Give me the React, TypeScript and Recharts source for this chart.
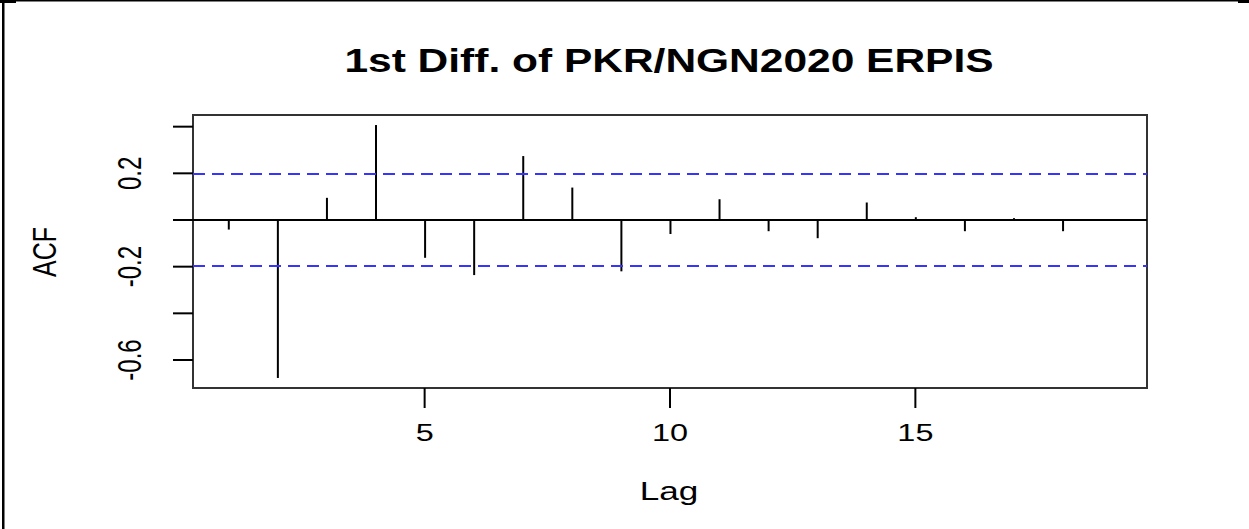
import React from 'react';
import { ComposedChart, Bar, XAxis, YAxis, ReferenceLine, ReferenceArea } from 'recharts';

const lags = [1, 2, 3, 4, 5, 6, 7, 8, 9, 10, 11, 12, 13, 14, 15, 16, 17, 18];
const acfValues = [-0.041, -0.677, 0.095, 0.407, -0.162, -0.236, 0.274, 0.139, -0.22, -0.06, 0.089, -0.048, -0.078, 0.075, 0.012, -0.048, 0.008, -0.048];
const ciBound = 0.197;
const xTicks = [5, 10, 15];
const yTicks = [-0.6, -0.4, -0.2, 0, 0.2, 0.4];
const yLabelledTicks = [-0.6, -0.2, 0.2];
const xDomain = [0.28, 19.72];
const yDomain = [-0.72, 0.45];
const titleText = '1st Diff. of PKR/NGN2020 ERPIS';
const xLabelText = 'Lag';
const yLabelText = 'ACF';

const data = lags.map((lag, i) => ({ lag, acf: acfValues[i] }));

const FONT = '"Liberation Sans", Arial, sans-serif';
const SX = 1.35;
const W = 1249;
const H = 529;

const Spike = (props: any) => {
  const { x, y, width, height } = props;
  if (x == null || y == null) return null;
  const cx = x + width / 2;
  return <line x1={cx} x2={cx} y1={y} y2={y + height} stroke="#000" strokeWidth={2} />;
};

const YTick = (props: any) => {
  const { y, payload } = props;
  if (!yLabelledTicks.some((v) => Math.abs(v - payload.value) < 1e-9)) return null;
  return (
    <text
      transform={`translate(130,${y}) scale(${SX},1) rotate(-90)`}
      textAnchor="middle"
      dy="0.35em"
      fontSize={24}
      fontFamily={FONT}
      fill="#000"
    >
      {String(payload.value)}
    </text>
  );
};

const XTick = (props: any) => {
  const { x, payload } = props;
  return (
    <text
      transform={`translate(${x},441) scale(${SX},1)`}
      textAnchor="middle"
      fontSize={24}
      fontFamily={FONT}
      fill="#000"
    >
      {String(payload.value)}
    </text>
  );
};

export default function App() {
  return (
    <div style={{ position: 'absolute', left: 0, top: 0, width: W, height: H, background: '#fff' }}>
      <ComposedChart
        width={W}
        height={H}
        data={data}
        margin={{ top: 115, right: 102, bottom: 81, left: 133 }}
      >
        <XAxis
          dataKey="lag"
          type="number"
          domain={xDomain}
          ticks={xTicks}
          allowDataOverflow
          axisLine={false}
          tickLine={{ stroke: '#000', strokeWidth: 2 }}
          tickSize={20}
          height={60}
          tick={<XTick />}
        />
        <YAxis
          type="number"
          domain={yDomain}
          ticks={yTicks}
          allowDataOverflow
          axisLine={false}
          tickLine={{ stroke: '#000', strokeWidth: 2 }}
          tickSize={20}
          width={60}
          tick={<YTick />}
        />
        <ReferenceArea
          x1={xDomain[0]}
          x2={xDomain[1]}
          y1={yDomain[0]}
          y2={yDomain[1]}
          fill="none"
          fillOpacity={0}
          stroke="#333"
          strokeWidth={2}
          ifOverflow="visible"
        />
        <ReferenceLine y={ciBound} stroke="#3535ff" strokeWidth={2} strokeDasharray="12 7" />
        <ReferenceLine y={-ciBound} stroke="#3535ff" strokeWidth={2} strokeDasharray="12 7" />
        <ReferenceLine y={0} stroke="#000" strokeWidth={2} />
        <Bar dataKey="acf" barSize={4} shape={<Spike />} isAnimationActive={false} />
      </ComposedChart>
      <svg
        width={W}
        height={H}
        style={{ position: 'absolute', left: 0, top: 0, pointerEvents: 'none' }}
      >
        <rect x={0} y={0} width={W - 10} height={1.5} fill="#000" />
        <rect x={0} y={0} width={16} height={3} fill="#000" />
        <rect x={1238} y={0} width={11} height={3} fill="#000" />
        <rect x={2} y={0} width={2.5} height={H} fill="#000" />
        <text
          transform={`translate(669,72) scale(1.25,1)`}
          textAnchor="middle"
          fontSize={34}
          fontWeight="bold"
          fontFamily={FONT}
          fill="#000"
        >
          {titleText}
        </text>
        <text
          transform={`translate(669,500) scale(${SX},1)`}
          textAnchor="middle"
          fontSize={26}
          fontFamily={FONT}
          fill="#000"
        >
          {xLabelText}
        </text>
        <text
          transform={`translate(44,252) scale(${SX},1) rotate(-90)`}
          textAnchor="middle"
          dy="0.35em"
          fontSize={25}
          fontFamily={FONT}
          fill="#000"
        >
          {yLabelText}
        </text>
      </svg>
    </div>
  );
}
